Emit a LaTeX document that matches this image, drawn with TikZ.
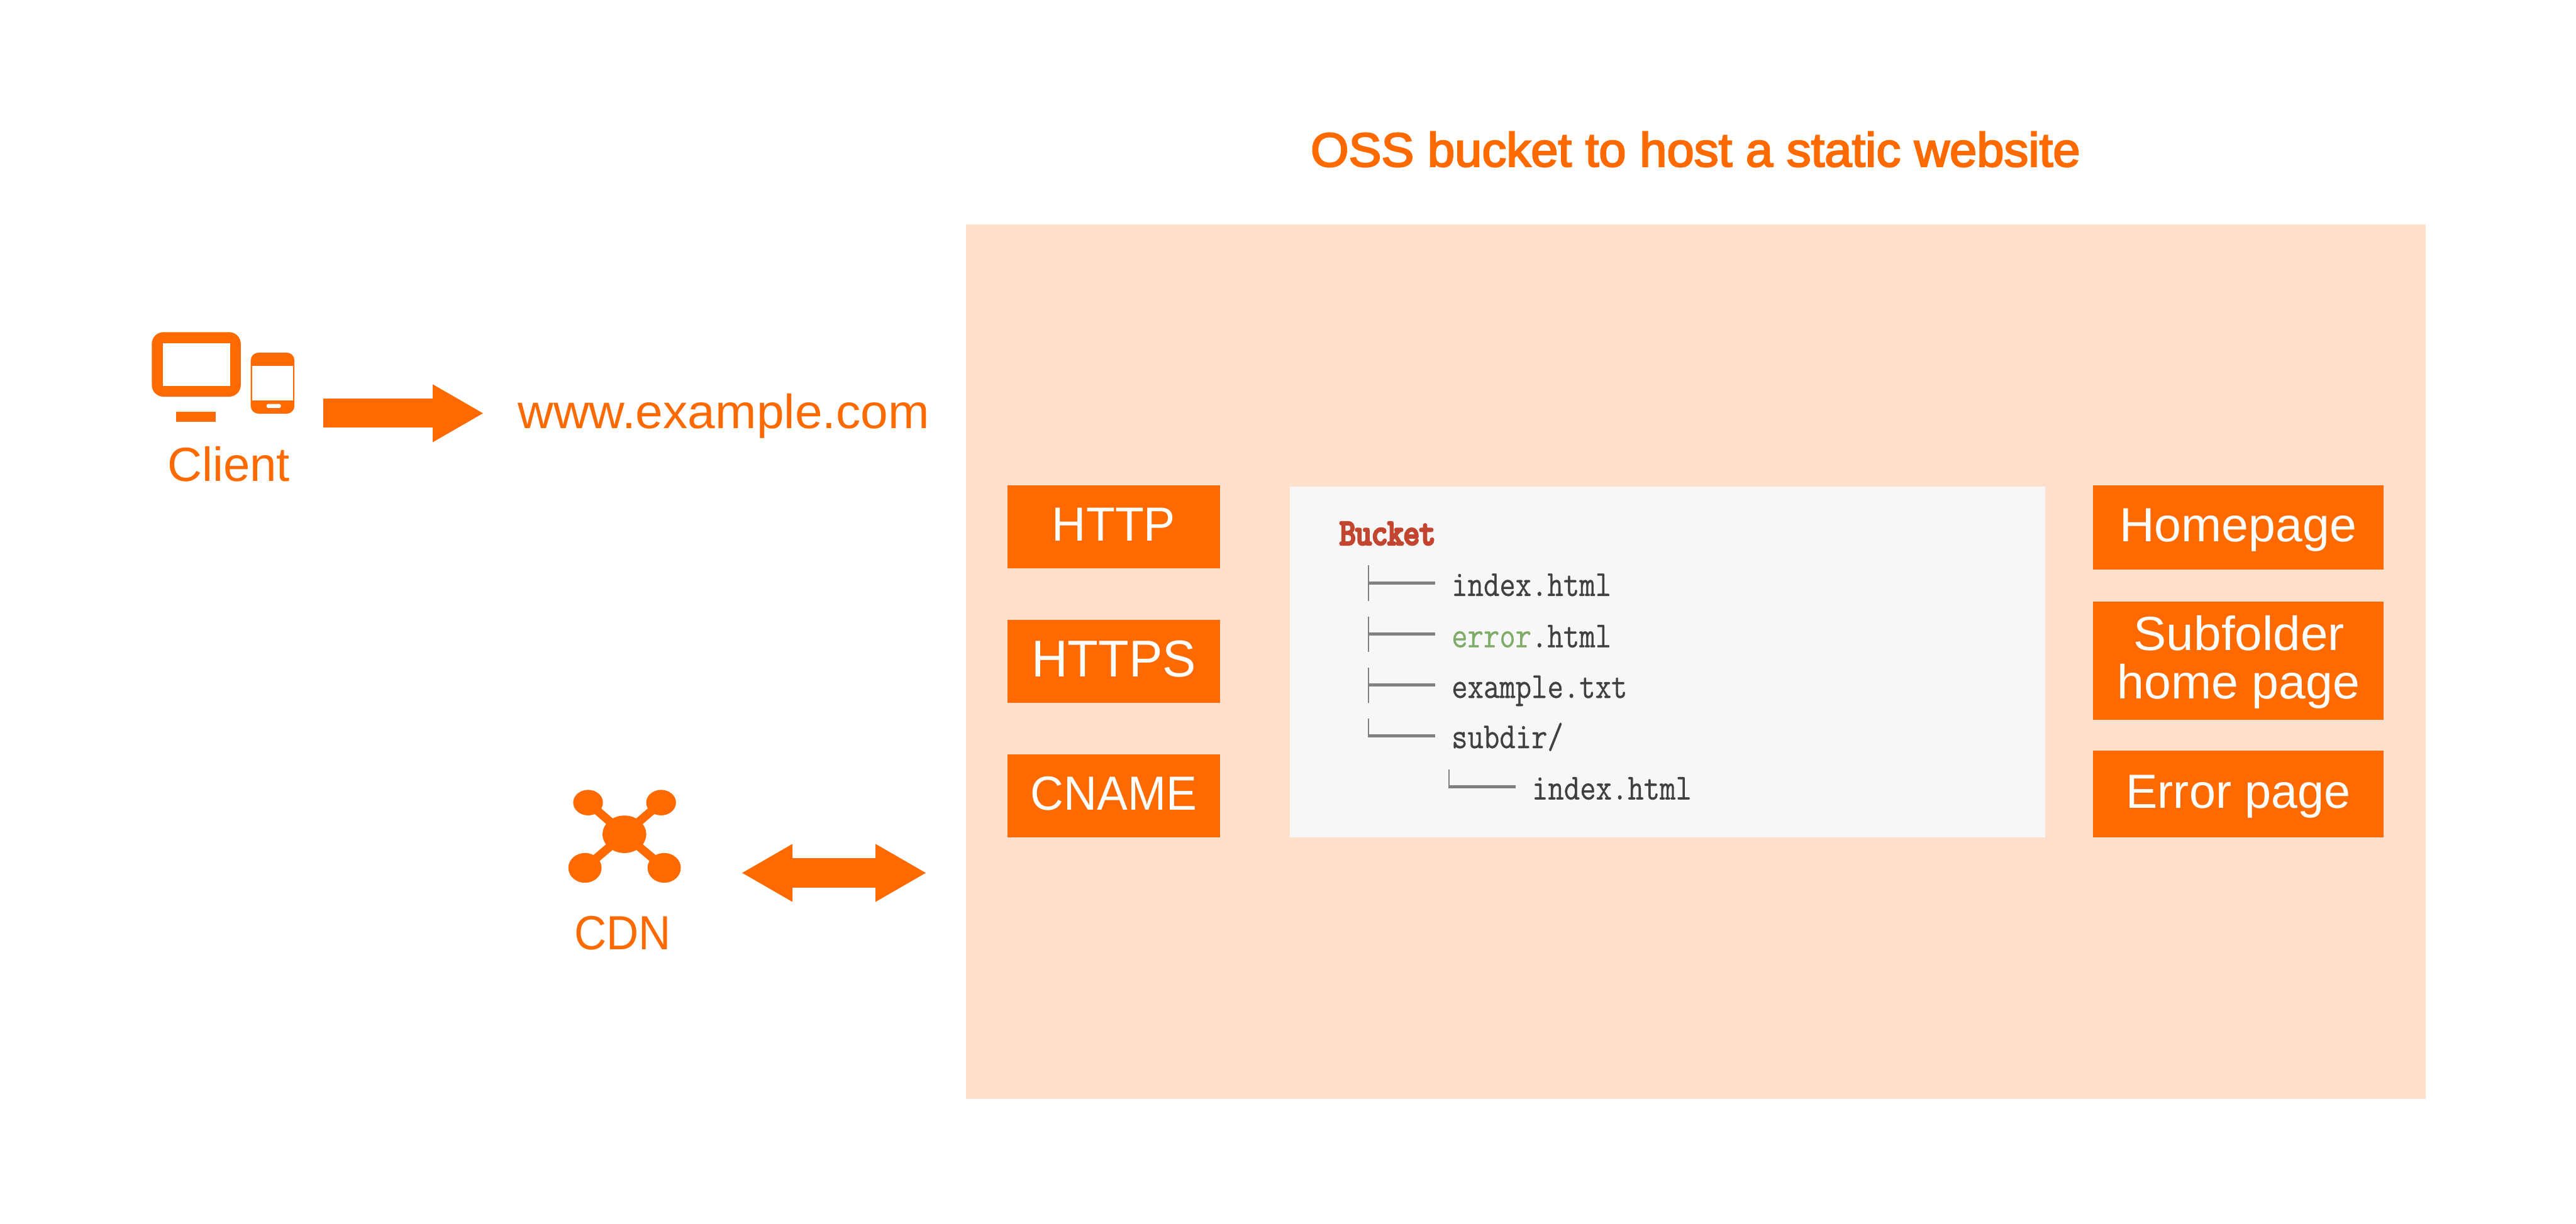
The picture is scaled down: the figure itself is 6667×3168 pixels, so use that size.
\documentclass[tikz,border=0pt]{standalone}
\usepackage{fontspec}
\usetikzlibrary{shapes.geometric,arrows.meta}
\setmainfont{Liberation Sans}
\newfontfamily\titlefont[FakeBold=3]{Liberation Sans}
\newfontfamily\treefont[FakeStretch=0.845,FakeBold=0.5]{Latin Modern Mono}
\newfontfamily\treebold[FakeStretch=0.845,FakeBold=6]{Latin Modern Mono}
\definecolor{ossorange}{HTML}{FF6A00}
\definecolor{ossbg}{HTML}{FEE0CC}
\definecolor{ossgray}{HTML}{F7F7F7}
\definecolor{ossred}{HTML}{C1452F}
\definecolor{ossgreen}{HTML}{7FAB68}
\definecolor{osstext}{HTML}{404040}
\definecolor{ossline}{HTML}{808080}
% 1 unit = 1 reference pixel = 0.01cm
\newcommand{\sizeL}{\fontsize{35.3pt}{37pt}\selectfont}
\newcommand{\sizeH}{\fontsize{38.1pt}{40pt}\selectfont}
\newcommand{\sizeM}{\fontsize{27pt}{35pt}\selectfont}
\newcommand{\hs}[2]{\scalebox{#1}[1]{#2}}
\tikzset{
  x=0.01cm, y=-0.01cm,
  panel/.style={fill=#1, draw=none, inner sep=0pt, outer sep=0pt, anchor=north west},
  labelbox/.style={fill=ossorange, text=white, inner sep=0pt, outer sep=0pt, font=\sizeL,
    text height=0.74cm, text depth=0pt},
  plain label/.style={text=ossorange, inner sep=0pt, outer sep=0pt, font=\sizeL, anchor=base},
  tree item/.style={text=osstext, inner sep=0pt, outer sep=0pt, font=\treefont\sizeM, anchor=base west},
  tree vert/.style={draw=ossline, line width=0.04cm},
  tree horiz/.style={draw=ossline, line width=0.08cm},
  block line/.style={draw=ossorange, line width=0.75cm},
  block end/.style={-{Triangle[length=1.3cm,width=1.5cm,line width=0pt,sep=0pt]}},
  block both/.style={{Triangle[length=1.3cm,width=1.5cm,line width=0pt,sep=0pt]}-{Triangle[length=1.3cm,width=1.5cm,line width=0pt,sep=0pt]}},
  hub/.style={ellipse, fill=ossorange, inner sep=0pt, outer sep=0pt},
  hub link/.style={draw=ossorange, line width=0.22cm},
}
\begin{document}
\begin{tikzpicture}
\useasboundingbox (0,0) rectangle (6667,3168);
\fill[white] (0,0) rectangle (6667,3168);

% main panel
\node[panel=ossbg, minimum width=37.75cm, minimum height=22.63cm] (bucketpanel) at (2500,581) {};
\node[text=ossorange, inner sep=0pt, font=\titlefont\sizeL, anchor=base] (title) at (4388,431) {\hs{1.02}{OSS bucket to host a static website}};

% left boxes
\node[labelbox, minimum width=5.51cm, minimum height=2.16cm] (http) at (2882.5,1364) {\hs{0.985}{HTTP}};
\node[labelbox, minimum width=5.51cm, minimum height=2.15cm, font=\sizeH, text height=0.79cm] (https) at (2882.5,1712.5) {\hs{0.97}{HTTPS}};
\node[labelbox, minimum width=5.51cm, minimum height=2.15cm] (cname) at (2882.5,2060.5) {\hs{0.96}{CNAME}};

% right boxes
\node[labelbox, minimum width=7.51cm, minimum height=2.18cm] (home) at (5792.5,1365) {\hs{1.01}{Homepage}};
\node[fill=ossorange, inner sep=0pt, outer sep=0pt, minimum width=7.51cm, minimum height=3.07cm] (subbox) at (5792.5,1710.5) {};
\node[text=white, inner sep=0pt, font=\sizeL, anchor=base] (subone) at (5795,1684) {\hs{1.027}{Subfolder}};
\node[text=white, inner sep=0pt, font=\sizeL, anchor=base] (subtwo) at (5794,1809) {\hs{1.01}{home page}};
\node[labelbox, minimum width=7.51cm, minimum height=2.25cm] (errpage) at (5792.5,2055.5) {\hs{0.99}{Error page}};

% tree
\node[panel=ossgray, minimum width=19.53cm, minimum height=9.08cm] (treepanel) at (3339,1260) {};
\node[tree item, text=ossred, font=\treebold\sizeM] (bucket) at (3467,1410) {Bucket};
\node[tree item] (f1) at (3757,1543) {index.html};
\node[tree item] (f2) at (3757,1676) {\textcolor{ossgreen}{error}.html};
\node[tree item] (f3) at (3757,1807) {example.txt};
\node[tree item] (f4) at (3757,1937) {subdir/};
\node[tree item] (f5) at (3965,2070) {index.html};
\draw[tree vert] (3542,1464) -- (3542,1556);
\draw[tree horiz] (3542,1510) -- (3715,1510);
\draw[tree vert] (3542,1596) -- (3542,1688);
\draw[tree horiz] (3542,1642) -- (3715,1642);
\draw[tree vert] (3542,1728) -- (3542,1820);
\draw[tree horiz] (3542,1774) -- (3715,1774);
\draw[tree vert] (3542,1860) -- (3542,1909);
\draw[tree horiz] (3540,1905) -- (3715,1905);
\draw[tree vert] (3750,1992) -- (3750,2041);
\draw[tree horiz] (3748,2037) -- (3923,2037);

% client icon
\node[fill=ossorange, rounded corners=0.3cm, inner sep=0pt, minimum width=2.3cm, minimum height=1.67cm] (monitor) at (508,943.5) {};
\node[fill=white, inner sep=0pt, minimum width=1.75cm, minimum height=1.1cm] (screen) at (508.5,944) {};
\node[fill=ossorange, inner sep=0pt, minimum width=1.03cm, minimum height=0.26cm] (stand) at (507.5,1079) {};
\node[fill=ossorange, rounded corners=0.2cm, inner sep=0pt, minimum width=1.13cm, minimum height=1.58cm] (phone) at (705.5,992) {};
\node[fill=white, inner sep=0pt, minimum width=1.05cm, minimum height=0.88cm] (phonescreen) at (705.5,992) {};
\node[fill=white, rounded corners=0.03cm, inner sep=0pt, minimum width=0.37cm, minimum height=0.1cm] (phonebutton) at (708.5,1051) {};
\node[plain label] (client) at (592,1246) {Client};

% client arrow
\coordinate (cstart) at (837,1070);
\coordinate (cend) at (1250,1070);
\draw[block line, block end] (cstart) -- (cend);
\node[plain label] (url) at (1873,1110) {\hs{1.03}{www.example.com}};

% CDN icon
\node[hub, minimum width=1.13cm, minimum height=0.97cm] (hubc) at (1616,2160) {};
\node[hub, minimum width=0.77cm, minimum height=0.66cm] (hubtl) at (1522,2078) {};
\node[hub, minimum width=0.77cm, minimum height=0.66cm] (hubtr) at (1711,2078) {};
\node[hub, minimum width=0.86cm, minimum height=0.77cm] (hubbl) at (1514,2247) {};
\node[hub, minimum width=0.86cm, minimum height=0.77cm] (hubbr) at (1719,2247) {};
\draw[hub link] (hubc.center) -- (hubtl.center);
\draw[hub link] (hubc.center) -- (hubtr.center);
\draw[hub link] (hubc.center) -- (hubbl.center);
\draw[hub link] (hubc.center) -- (hubbr.center);
\node[plain label] (cdn) at (1612,2459) {\hs{0.93}{CDN}};

% CDN arrow
\coordinate (dstart) at (1921,2260);
\coordinate (dend) at (2396,2260);
\draw[block line, block both] (dstart) -- (dend);
\end{tikzpicture}
\end{document}
